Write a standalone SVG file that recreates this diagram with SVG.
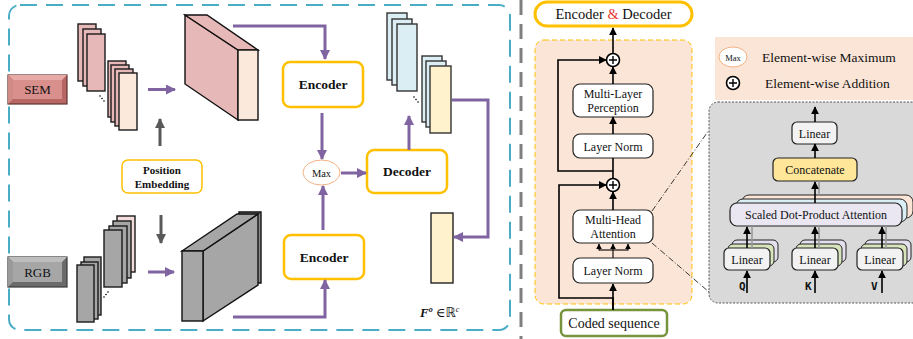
<svg xmlns="http://www.w3.org/2000/svg" width="913" height="339" viewBox="0 0 913 339">
<defs>
<style>
text{font-family:"Liberation Serif","DejaVu Serif",serif;fill:#111}
.pu{stroke:#8064a2;stroke-width:3;fill:none}
.bk{stroke:#000;stroke-width:1.6;fill:none}
.gy{stroke:#595959;stroke-width:3;fill:none}
.enc{fill:#fff;stroke:#ffc000;stroke-width:2.5}
.lbl{font-size:13.5px;font-weight:bold;text-anchor:middle}
.box{fill:#fff;stroke:#222;stroke-width:1.2}
.t12{font-size:12px;text-anchor:middle}
.sh{stroke:#1a1a1a;stroke-width:1.4}
.pk{fill:#e6b8b7}
.lt{fill:#fbe9dc}
.g{fill:#a6a6a6}
.bl{fill:#dbeef4}
.yl{fill:#fff2cc}
</style>
<marker id="ap" viewBox="0 0 10 10" refX="9" refY="5" markerWidth="10" markerHeight="10" markerUnits="userSpaceOnUse" orient="auto"><path d="M0,0 L10,5 L0,10 z" fill="#8064a2"/></marker>
<marker id="ab" viewBox="0 0 10 10" refX="9" refY="5" markerWidth="8" markerHeight="8" markerUnits="userSpaceOnUse" orient="auto"><path d="M0,0 L10,5 L0,10 z" fill="#000"/></marker>
<marker id="abs" viewBox="0 0 10 10" refX="9" refY="5" markerWidth="6" markerHeight="6" markerUnits="userSpaceOnUse" orient="auto"><path d="M0,0 L10,5 L0,10 z" fill="#000"/></marker>
<marker id="ag" viewBox="0 0 10 10" refX="9" refY="5" markerWidth="10" markerHeight="10" markerUnits="userSpaceOnUse" orient="auto"><path d="M0,0 L10,5 L0,10 z" fill="#595959"/></marker>
</defs>
<rect width="913" height="339" fill="#fff"/>

<!-- panels -->
<rect x="9" y="5" width="501" height="325" rx="11" fill="none" stroke="#4bacc6" stroke-width="2" stroke-dasharray="17 9"/>
<line x1="521" y1="0" x2="521" y2="339" stroke="#7f7f7f" stroke-width="3" stroke-dasharray="15 9"/>

<!-- left panel nodes -->
<g id="sem">
<rect x="8" y="75" width="59" height="29" fill="#b96764" stroke="#5e3432" stroke-width="1.2"/>
<polygon points="8,75 67,75 62,80 13,80" fill="#e8aaa6"/>
<polygon points="8,75 13,80 13,99 8,104" fill="#d08b87"/>
<rect x="13" y="80" width="49" height="19" fill="#d9908c"/>
<text x="37.5" y="94" font-size="13" text-anchor="middle">SEM</text>
</g>
<g id="rgb">
<rect x="8" y="257" width="59" height="30" fill="#6b6b6b" stroke="#3a3a3a" stroke-width="1.2"/>
<polygon points="8,257 67,257 62,262 13,262" fill="#bdbdbd"/>
<polygon points="8,257 13,262 13,282 8,287" fill="#9a9a9a"/>
<rect x="13" y="262" width="49" height="20" fill="#a6a6a6"/>
<text x="37.5" y="276.5" font-size="13" text-anchor="middle">RGB</text>
</g>
<g id="sem-stack" class="sh">
<rect x="78" y="24" width="18" height="57" class="pk"/>
<rect x="83" y="29" width="18" height="57" class="pk"/>
<rect x="87" y="34" width="18" height="57" class="pk"/>
<rect x="108" y="61" width="18" height="56" class="pk"/>
<rect x="111" y="65" width="18" height="57" class="pk"/>
<rect x="115" y="69" width="18" height="57" class="pk"/>
<rect x="119" y="73" width="18" height="57" class="lt"/>
<g fill="#000" stroke="none"><circle cx="100" cy="96" r="0.8"/><circle cx="102" cy="98.5" r="0.8"/><circle cx="104" cy="101" r="0.8"/></g>
</g>
<g id="rgb-stack" class="sh">
<rect x="84" y="257" width="17" height="58" class="g"/>
<rect x="81" y="262" width="17" height="57" class="g"/>
<rect x="77" y="265" width="17" height="57" class="g"/>
<rect x="117" y="216" width="18" height="56" fill="#f2dcdb"/>
<rect x="113" y="221" width="18" height="57" class="g"/>
<rect x="109" y="226" width="18" height="57" class="g"/>
<rect x="104" y="230" width="18" height="57" class="g"/>
<g fill="#000" stroke="none"><circle cx="104" cy="297" r="0.8"/><circle cx="106" cy="294.5" r="0.8"/><circle cx="108" cy="292" r="0.8"/></g>
</g>
<g id="sem-cube" stroke="#111" stroke-width="1.4">
<polygon points="185,15 238,50 238,120 185,84" class="pk"/>
<polygon points="185,15 207,15 258,50 238,50" class="pk"/>
<rect x="238" y="50" width="20" height="70" class="lt"/>
</g>
<g id="rgb-cube" stroke="#111" stroke-width="1.4">
<polygon points="239,212 261,212 261,283 239,283" fill="#8c8c8c"/>
<polygon points="203,251 258,214 258,285 203,321" class="g"/>
<polygon points="182,251 237,214 258,214 203,251" class="g"/>
<rect x="182" y="251" width="21" height="70" class="g"/>
</g>
<g id="pos-emb">
<rect x="122" y="160" width="80" height="33" rx="6" fill="#fff" stroke="#ffc000" stroke-width="1.5"/>
<text x="162" y="173.5" font-size="11" font-weight="bold" text-anchor="middle">Position</text>
<text x="162" y="187.5" font-size="11" font-weight="bold" text-anchor="middle">Embedding</text>
</g>
<g id="encoder1">
<rect x="283" y="62" width="80" height="45" rx="7" class="enc"/>
<text x="323" y="89" class="lbl">Encoder</text>
</g>
<g id="encoder2">
<rect x="284" y="235" width="80" height="44" rx="7" class="enc"/>
<text x="324" y="262" class="lbl">Encoder</text>
</g>
<g id="max">
<ellipse cx="321.5" cy="172.5" rx="18.5" ry="12.5" fill="#fff" stroke="#f4b183" stroke-width="1"/>
<text x="321.5" y="176.5" font-size="10.5" text-anchor="middle">Max</text>
</g>
<g id="decoder">
<rect x="367" y="150" width="80" height="43" rx="7" class="enc"/>
<text x="407" y="176" class="lbl">Decoder</text>
</g>
<g id="out-stack" stroke="#333" stroke-width="1.4">
<rect x="387" y="13" width="20" height="67" class="bl"/>
<rect x="392" y="19" width="20" height="66" class="bl"/>
<rect x="397" y="24" width="20" height="67" class="bl"/>
<rect x="422" y="56" width="20" height="66" class="bl"/>
<rect x="426" y="61" width="20" height="66" class="bl"/>
<rect x="430" y="66" width="21" height="67" class="yl"/>
<g fill="#000" stroke="none"><circle cx="414" cy="97" r="0.8"/><circle cx="416" cy="99.5" r="0.8"/><circle cx="418" cy="102" r="0.8"/></g>
</g>
<g id="fo">
<rect x="431" y="213" width="22" height="70" class="yl" stroke="#222" stroke-width="1.4"/>
<text x="420" y="317" font-size="13"><tspan font-weight="bold" font-style="italic">F</tspan><tspan font-size="8" dy="-5" font-weight="bold" font-style="italic">o</tspan><tspan dy="5"> ∈</tspan><tspan font-family="'DejaVu Sans',sans-serif" font-size="13">ℝ</tspan><tspan font-size="8" dy="-5" font-style="italic">c</tspan></text>
</g>

<!-- left connectors -->
<g id="left-connectors">
<line x1="148" y1="89.5" x2="175" y2="89.5" class="pu" marker-end="url(#ap)"/>
<line x1="148" y1="272" x2="174" y2="272" class="pu" marker-end="url(#ap)"/>
<line x1="160" y1="146" x2="160" y2="119" class="gy" marker-end="url(#ag)"/>
<line x1="161" y1="215" x2="161" y2="243" class="gy" marker-end="url(#ag)"/>
<path d="M233,26 H325 V59" class="pu" marker-end="url(#ap)"/>
<path d="M233,317 H325 V280" class="pu" marker-end="url(#ap)"/>
<line x1="322" y1="113" x2="322" y2="159" class="pu" marker-end="url(#ap)"/>
<line x1="323" y1="230" x2="323" y2="186" class="pu" marker-end="url(#ap)"/>
<line x1="341" y1="173" x2="366" y2="173" class="pu" marker-end="url(#ap)"/>
<line x1="409" y1="150" x2="409" y2="116" class="pu" marker-end="url(#ap)"/>
<path d="M452,100 H488 V237 H454" class="pu" marker-end="url(#ap)"/>
</g>

<!-- right panel -->
<g id="enc-dec-title">
<rect x="535" y="2" width="157" height="24" rx="12" fill="#fff" stroke="#ffc000" stroke-width="3"/>
<text x="613.5" y="19" font-size="14.5" text-anchor="middle">Encoder <tspan fill="#e53935">&amp;</tspan> Decoder</text>
</g>
<rect id="block-bg" x="535" y="40" width="157" height="264" rx="9" fill="#fbe5d6" stroke="#ffc000" stroke-width="1" stroke-dasharray="5 3"/>
<g id="mlp"><rect x="573" y="84" width="80" height="33" rx="7" class="box"/>
<text x="613" y="97.5" class="t12">Multi-Layer</text><text x="613" y="112" class="t12">Perception</text></g>
<g id="ln1"><rect x="573" y="134" width="80" height="24" rx="7" class="box"/>
<text x="613" y="150.5" class="t12">Layer Norm</text></g>
<g id="mha"><rect x="573" y="210" width="80" height="33" rx="7" class="box"/>
<text x="613" y="223.5" class="t12">Multi-Head</text><text x="613" y="238" class="t12">Attention</text></g>
<g id="ln2"><rect x="573" y="258" width="80" height="25" rx="7" class="box"/>
<text x="613" y="275" class="t12">Layer Norm</text></g>
<g id="plus1"><circle cx="613" cy="60" r="6.5" fill="#fff" stroke="#000" stroke-width="1.6"/><path d="M609,60 H617 M613,56 V64" stroke="#000" stroke-width="1.4"/></g>
<g id="plus2"><circle cx="613" cy="185" r="6.5" fill="#fff" stroke="#000" stroke-width="1.6"/><path d="M609,185 H617 M613,181 V189" stroke="#000" stroke-width="1.4"/></g>
<g id="coded"><rect x="561" y="310" width="106" height="26" rx="5" fill="#fff" stroke="#77933c" stroke-width="2.5"/>
<text x="614" y="328" font-size="14" text-anchor="middle">Coded sequence</text></g>

<g id="legend">
<rect x="715" y="37" width="198" height="63" fill="#fbe5d6"/>
<ellipse cx="733" cy="57" rx="14" ry="10" fill="#fff" stroke="#f4b183" stroke-width="1"/>
<text x="733" y="60.5" font-size="8.5" text-anchor="middle">Max</text>
<text x="762" y="62" font-size="13.5">Element-wise Maximum</text>
<circle cx="733" cy="83" r="6.5" fill="#fff" stroke="#000" stroke-width="1.6"/><path d="M729,83 H737 M733,79 V87" stroke="#000" stroke-width="1.4"/>
<text x="765" y="88" font-size="13.5">Element-wise Addition</text>
</g>

<g id="mha-detail">
<rect x="709" y="102" width="215" height="201" rx="9" fill="#d9d9d9" stroke="#444" stroke-width="0.9" stroke-dasharray="2 1.5"/>
</g>
<g id="linear-top"><rect x="792" y="122" width="45" height="22" rx="5" fill="#f2f2f2" stroke="#222" stroke-width="1.2"/>
<text x="814.5" y="137.5" class="t12">Linear</text></g>
<g id="concat"><rect x="773" y="158" width="84" height="23" rx="5" fill="#ffe699" stroke="#222" stroke-width="1.2"/>
<text x="815" y="174" class="t12">Concatenate</text></g>
<g id="sdpa">
<rect x="742" y="195" width="171" height="23" rx="7" fill="#fce4d6" stroke="#222" stroke-width="1"/>
<rect x="736" y="199" width="171" height="23" rx="7" fill="#dbeef4" stroke="#222" stroke-width="1"/>
<rect x="730" y="203" width="172" height="23" rx="7" fill="#eae6f2" stroke="#222" stroke-width="1.2"/>
<text x="816" y="219" class="t12" font-size="12.5">Scaled Dot-Product Attention</text>
</g>
<g id="linear-q">
<rect x="732" y="240" width="46" height="22" rx="5" fill="#e4dfec" stroke="#222" stroke-width="1"/>
<rect x="728" y="244" width="46" height="22" rx="5" fill="#d8e4bc" stroke="#222" stroke-width="1"/>
<rect x="724" y="248" width="46" height="22" rx="5" fill="#f2f2f2" stroke="#222" stroke-width="1.2"/>
<text x="747" y="263.5" class="t12">Linear</text>
</g>
<g id="linear-k">
<rect x="800" y="240" width="46" height="22" rx="5" fill="#e4dfec" stroke="#222" stroke-width="1"/>
<rect x="796" y="244" width="46" height="22" rx="5" fill="#d8e4bc" stroke="#222" stroke-width="1"/>
<rect x="792" y="248" width="46" height="22" rx="5" fill="#f2f2f2" stroke="#222" stroke-width="1.2"/>
<text x="815" y="263.5" class="t12">Linear</text>
</g>
<g id="linear-v">
<rect x="865" y="240" width="46" height="22" rx="5" fill="#e4dfec" stroke="#222" stroke-width="1"/>
<rect x="861" y="244" width="46" height="22" rx="5" fill="#d8e4bc" stroke="#222" stroke-width="1"/>
<rect x="857" y="248" width="46" height="22" rx="5" fill="#f2f2f2" stroke="#222" stroke-width="1.2"/>
<text x="880" y="263.5" class="t12">Linear</text>
</g>
<g id="qkv-labels">
<text x="739" y="290" font-size="11" font-weight="bold" style="font-family:'DejaVu Sans Mono',monospace">Q</text>
<text x="805" y="290" font-size="11" font-weight="bold" style="font-family:'DejaVu Sans Mono',monospace">K</text>
<text x="871" y="290" font-size="11" font-weight="bold" style="font-family:'DejaVu Sans Mono',monospace">V</text>
</g>

<!-- right connectors -->
<g id="right-connectors">
<line x1="613" y1="53" x2="613" y2="28" class="bk" marker-end="url(#ab)"/>
<line x1="613" y1="84" x2="613" y2="67" class="bk" marker-end="url(#ab)"/>
<line x1="613" y1="134" x2="613" y2="117" class="bk" marker-end="url(#ab)"/>
<line x1="613" y1="178" x2="613" y2="158" class="bk"/>
<path d="M613,171 H558 V60 H606" class="bk" marker-end="url(#ab)"/>
<line x1="613" y1="210" x2="613" y2="192" class="bk" marker-end="url(#ab)"/>
<path d="M613,310 V298 H559 V185 H606" class="bk" marker-end="url(#ab)"/>
<line x1="613" y1="310" x2="613" y2="284" class="bk" marker-end="url(#ab)"/>
<line x1="613" y1="258" x2="613" y2="244" stroke="#000" stroke-width="1.1" marker-end="url(#abs)"/>
<path d="M599,250 H628" stroke="#000" stroke-width="1.1" fill="none"/>
<line x1="599" y1="250.5" x2="599" y2="244" stroke="#000" stroke-width="1.1" marker-end="url(#abs)"/>
<line x1="628" y1="250.5" x2="628" y2="244" stroke="#000" stroke-width="1.1" marker-end="url(#abs)"/>
<line x1="652" y1="211" x2="709" y2="130" stroke="#222" stroke-width="0.9" stroke-dasharray="6 2 1 2"/>
<line x1="652" y1="243" x2="709" y2="292" stroke="#222" stroke-width="0.9" stroke-dasharray="6 2 1 2"/>
<line x1="815" y1="122" x2="815" y2="107" class="bk" marker-end="url(#ab)"/>
<line x1="815" y1="158" x2="815" y2="144" class="bk" marker-end="url(#ab)"/>
<line x1="819" y1="195" x2="819" y2="181" stroke="#9a9a9a" stroke-width="1.6"/>
<line x1="815" y1="203" x2="815" y2="182" class="bk" marker-end="url(#ab)"/>
<line x1="752" y1="248" x2="752" y2="226" stroke="#9a9a9a" stroke-width="1.6"/>
<line x1="747" y1="248" x2="747" y2="227" class="bk" marker-end="url(#ab)"/>
<line x1="819" y1="248" x2="819" y2="226" stroke="#9a9a9a" stroke-width="1.6"/>
<line x1="815" y1="248" x2="815" y2="227" class="bk" marker-end="url(#ab)"/>
<line x1="886" y1="248" x2="886" y2="226" stroke="#9a9a9a" stroke-width="1.6"/>
<line x1="882" y1="248" x2="882" y2="227" class="bk" marker-end="url(#ab)"/>
<line x1="747" y1="293" x2="747" y2="271" class="bk" marker-end="url(#ab)"/>
<line x1="815" y1="293" x2="815" y2="271" class="bk" marker-end="url(#ab)"/>
<line x1="882" y1="293" x2="882" y2="271" class="bk" marker-end="url(#ab)"/>
</g>
</svg>
